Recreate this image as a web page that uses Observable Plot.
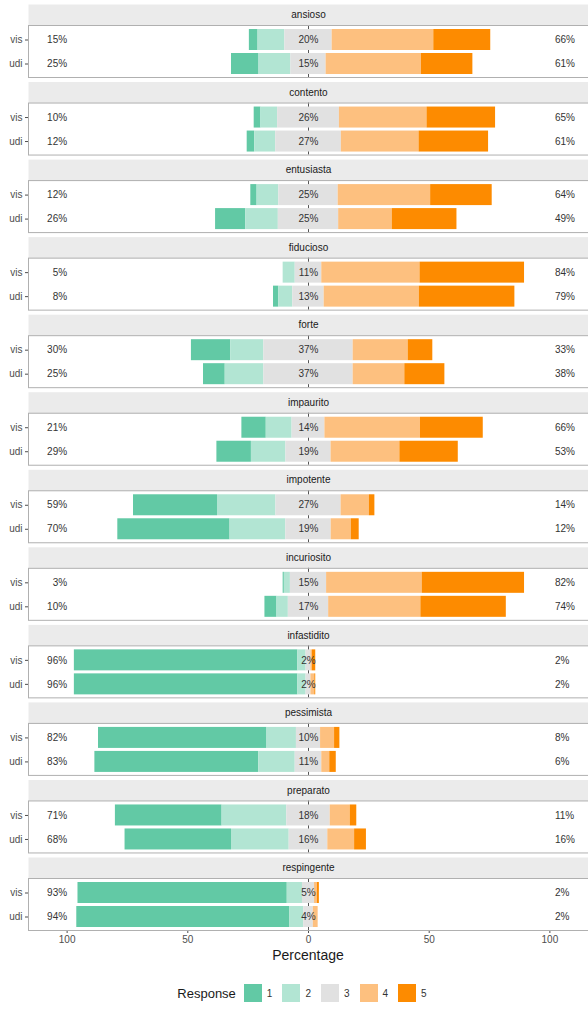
<!DOCTYPE html>
<html><head><meta charset="utf-8">
<script src="https://cdn.jsdelivr.net/npm/d3@7"></script>
<script src="https://cdn.jsdelivr.net/npm/@observablehq/plot@0.6"></script>
<style>
body{margin:0;background:#fff;font-family:"Liberation Sans",Arial,sans-serif;}
#chart{width:588px;}
#xlab{width:588px;box-sizing:border-box;padding-left:28px;text-align:center;font-size:14px;line-height:18px;color:#1a1a1a;}
#legend{width:588px;display:flex;align-items:center;justify-content:center;margin-top:20px;padding-left:26px;box-sizing:border-box;}
#legend .ttl{font-size:13px;color:#1a1a1a;margin-right:8px;}
</style></head><body>
<div id="chart"></div>
<div id="xlab">Percentage</div>
<div id="legend"><span class="ttl">Response</span></div>
<script>
const items = ["ansioso","contento","entusiasta","fiducioso","forte","impaurito","impotente","incuriosito","infastidito","pessimista","preparato","respingente"];
const groups = ["vis","udi"];
const responses = ["1","2","3","4","5"];
const colors = ["#62c9a5","#b2e5d3","#e1e1e1","#fdc07f","#fd8b00"];
const xTicks = [-100,-50,0,50,100];

// percentages per row, order: item × (vis, udi)
const r1 = [3.6,11.4, 2.8,3.1, 2.6,12.5, 0,2.2, 16.3,9.0, 10.1,14.3, 34.8,46.5, 0.5,5.0, 92.6,92.6, 69.8,67.9, 44.2,44.1, 86.7,88.3];
const r2 = [11.1,13.2, 6.9,8.7, 9.0,13.5, 5.0,5.8, 13.7,16.0, 10.7,14.3, 24.2,23.1, 2.5,4.7, 3.4,3.4, 12.2,15.1, 26.8,23.9, 6.3,5.7];
const r3 = [19.6,14.6, 25.6,27.2, 24.6,25.0, 11.0,13.0, 37.0,37.0, 13.6,18.7, 27.0,18.8, 15.0,16.7, 2.0,2.0, 10.0,11.0, 18.0,16.0, 5.0,4.0];
const r4 = [42.1,39.5, 36.3,32.2, 38.3,22.2, 40.7,39.4, 22.8,21.4, 39.6,28.5, 11.7,8.3, 39.6,38.2, 0.6,1.6, 5.8,3.3, 8.3,11.1, 1.2,2.0];
const r5 = [23.6,21.3, 28.4,28.8, 25.5,26.8, 43.3,39.6, 10.2,16.6, 26.0,24.2, 2.3,3.3, 42.4,35.4, 1.4,0.4, 2.2,2.7, 2.7,4.9, 0.8,0];

const rows = items.flatMap(item => groups.map(group => ({item, group})));
const segs = [];
const labels = [];
rows.forEach((r, i) => {
  const a = r1[i], b = r2[i], c = r3[i], d = r4[i], e = r5[i];
  const h = c / 2;
  segs.push({...r, response: "1", x1: -h - b - a, x2: -h - b});
  segs.push({...r, response: "2", x1: -h - b, x2: -h});
  segs.push({...r, response: "3", x1: -h, x2: h});
  segs.push({...r, response: "4", x1: h, x2: h + d});
  segs.push({...r, response: "5", x1: h + d, x2: h + d + e});
  labels.push({...r,
    low: Math.round(a + b) + "%",
    mid: Math.round(c) + "%",
    high: Math.round(d + e) + "%"});
});

const font = "Liberation Sans, Arial, sans-serif";
const plot = Plot.plot({
  width: 588, height: 946,
  marginTop: 25, marginBottom: 16, marginLeft: 28, marginRight: 0,
  style: {fontFamily: font, fontSize: "10px", color: "#4d4d4d", background: "white", overflow: "visible"},
  x: {domain: [-116, 116], ticks: xTicks, tickFormat: d => Math.abs(d), tickSize: 3, tickPadding: 2, label: null},
  y: {domain: groups, paddingInner: 0.145, paddingOuter: 0.147, tickSize: 3, tickPadding: 3, label: null},
  fy: {domain: items, paddingInner: 0.3295, paddingOuter: 0, axis: null, round: false, label: null},
  color: {domain: responses, range: colors},
  marks: [
    Plot.frame({fill: "#ebebeb", stroke: "none", insetTop: -21, insetBottom: 52}),
    Plot.text(items, {fy: d => d, text: d => d, frameAnchor: "top", lineAnchor: "middle", dy: -10.5, fill: "#1a1a1a", fontSize: 10}),
    Plot.ruleX([0], {stroke: "#555", strokeWidth: 1}),
    Plot.barX(segs, {fy: "item", y: "group", x1: "x1", x2: "x2", fill: "response"}),
    Plot.text(labels, {fy: "item", y: "group", x: -100, text: "low", textAnchor: "end", fill: "#333", fontSize: 10}),
    Plot.text(labels, {fy: "item", y: "group", x: 0, text: "mid", fill: "#333", fontSize: 10}),
    Plot.text(labels, {fy: "item", y: "group", x: 100, text: "high", textAnchor: "start", dx: 5, fill: "#333", fontSize: 10}),
    Plot.frame({fill: "none", stroke: "#b0b0b0"})
  ]
});
document.getElementById("chart").appendChild(plot);
const leg = plot.legend("color", {swatchSize: 18, style: {fontSize: "10px", color: "#333", fontFamily: font}});
leg.style.minHeight = "0";
leg.style.margin = "0";
document.getElementById("legend").appendChild(leg);
</script>
</body></html>
